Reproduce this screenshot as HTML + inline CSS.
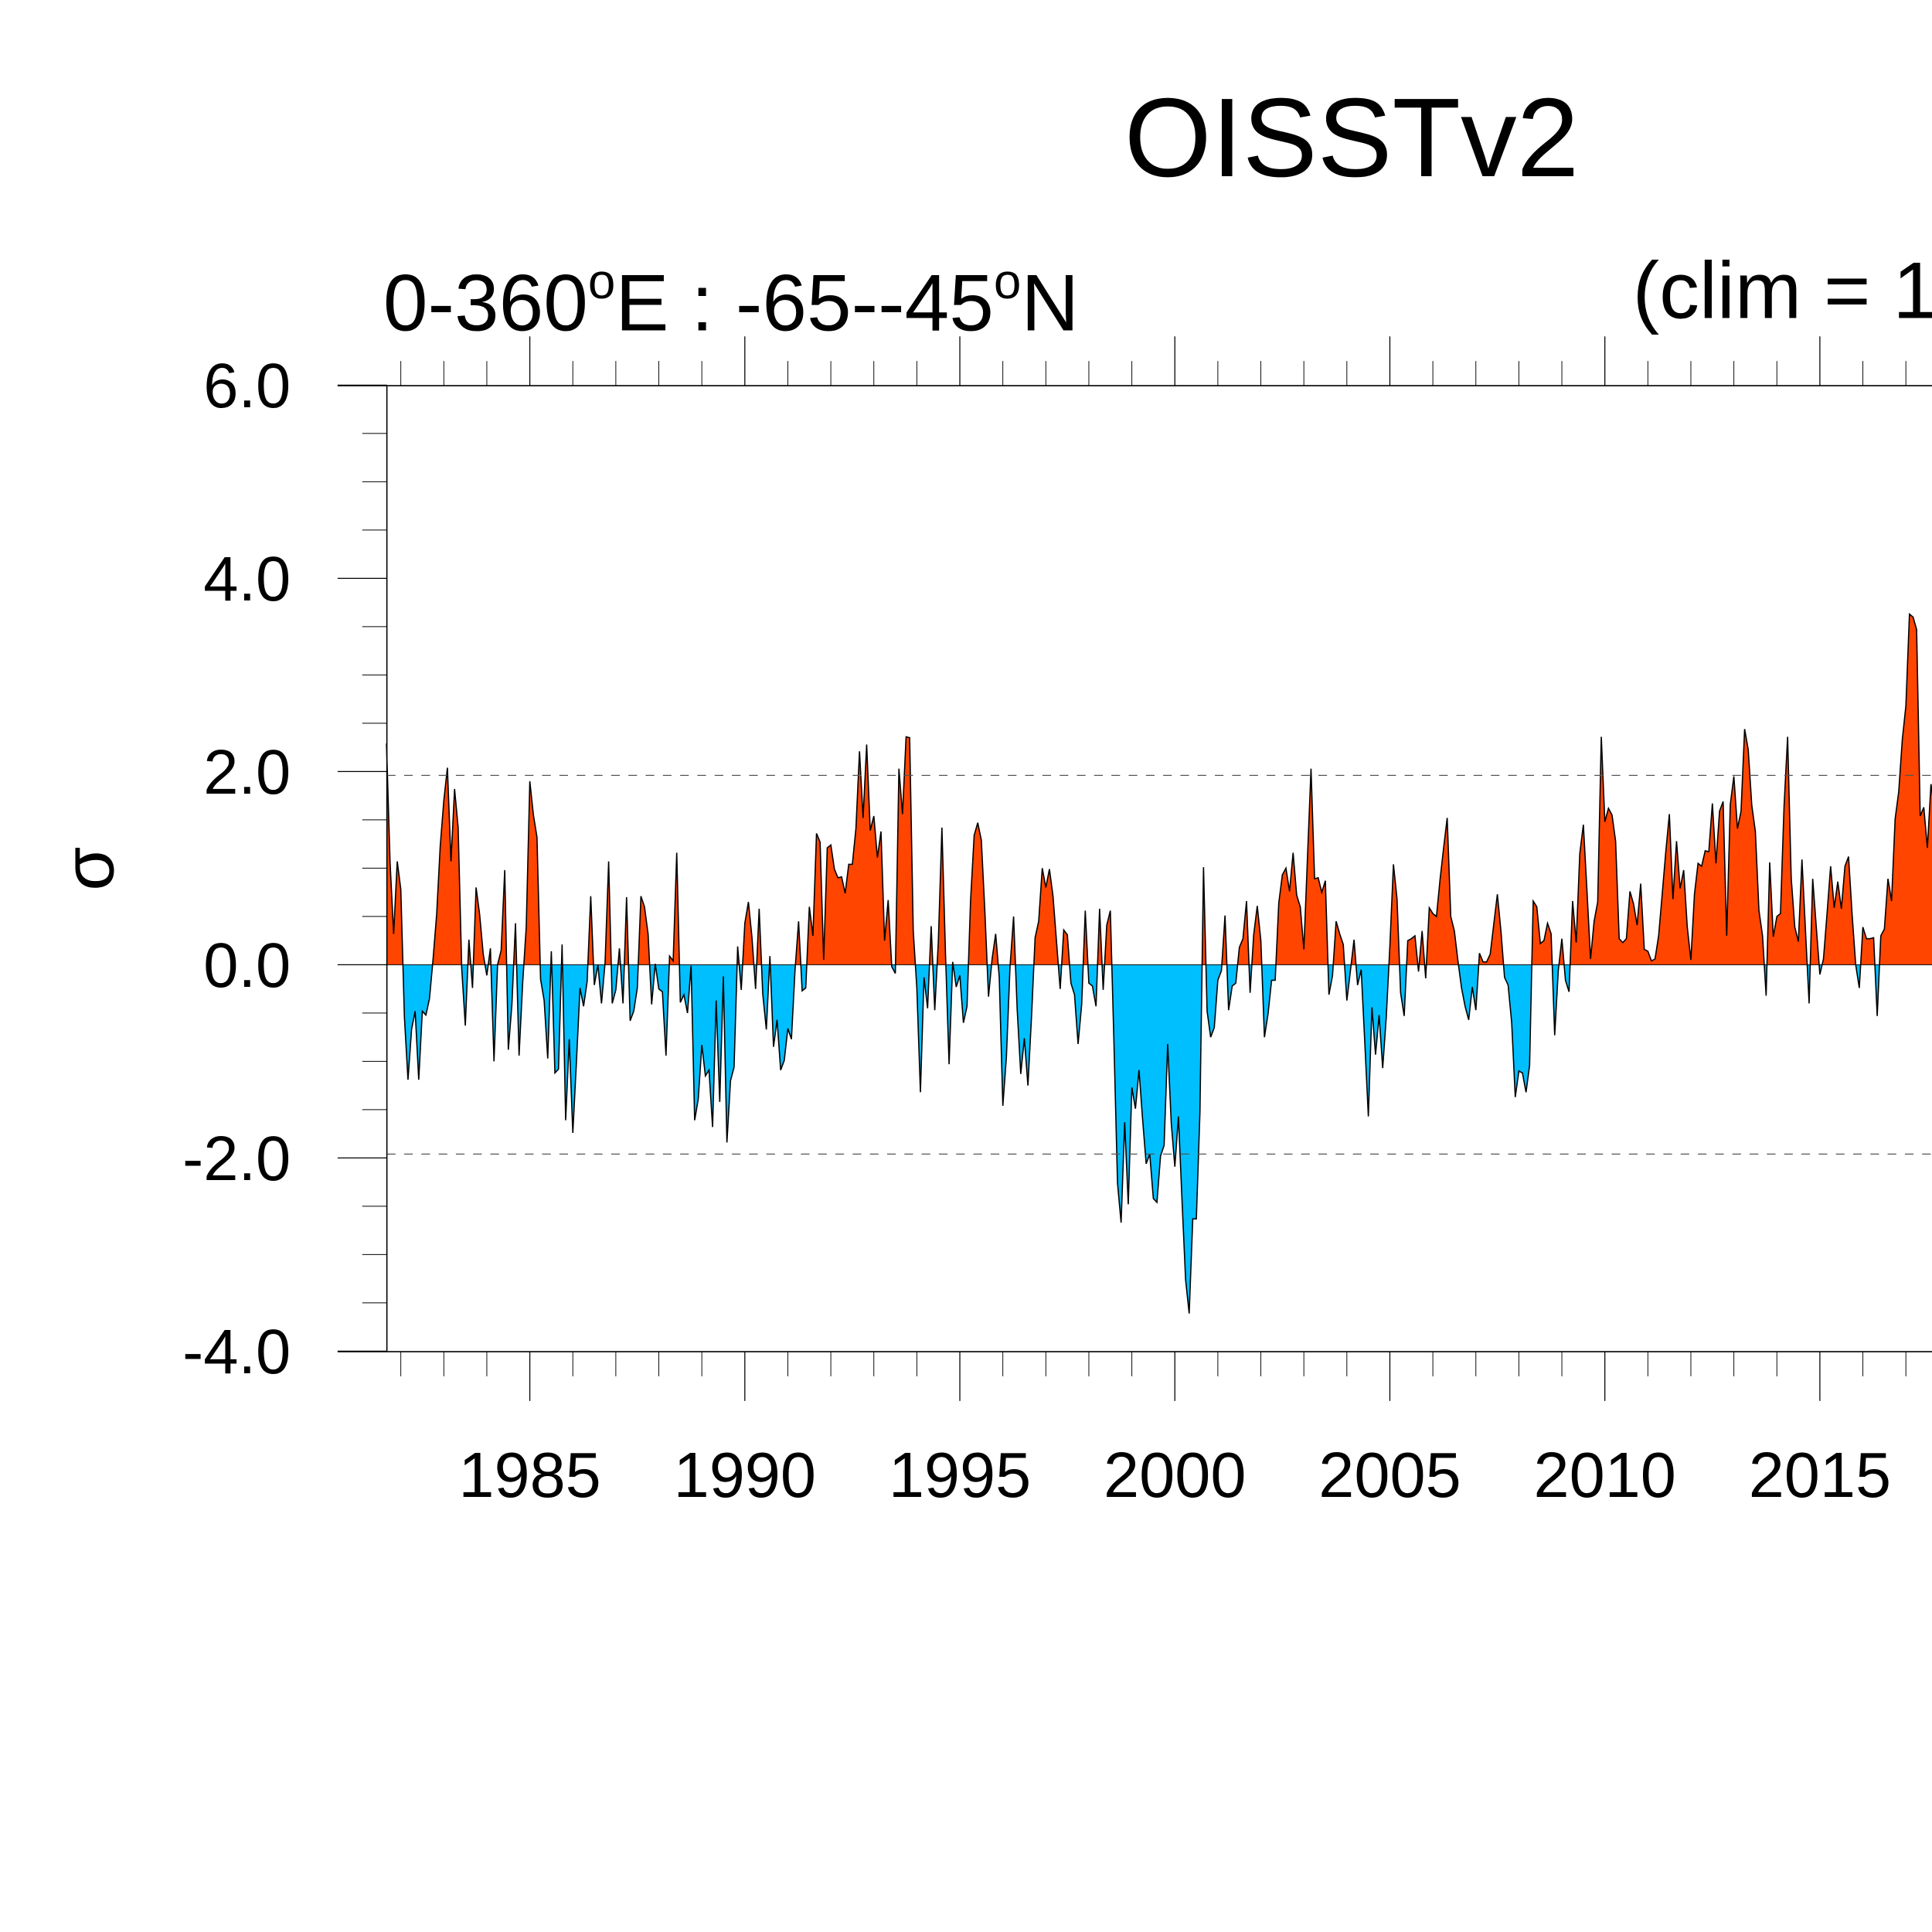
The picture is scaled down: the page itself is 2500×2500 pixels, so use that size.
<!DOCTYPE html>
<html><head><meta charset="utf-8"><style>
html,body{margin:0;padding:0;background:#fff;}
svg{display:block;}
text{font-family:"Liberation Sans",sans-serif;fill:#000;}
</style></head>
<body>
<svg id="chart" width="2500" height="2500" viewBox="0 0 1568 1568" xmlns="http://www.w3.org/2000/svg">
<text x="1097" y="143" font-size="91" text-anchor="middle">OISSTv2</text>
<text x="311" y="268" font-size="65">0-360<tspan font-size="40" dy="-26">o</tspan><tspan dy="26">E : -65--45</tspan><tspan font-size="40" dy="-26">o</tspan><tspan dy="26">N</tspan></text>
<text x="1325" y="258" font-size="65">(clim = 1</text>
<text x="0" y="0" font-size="58" text-anchor="middle" transform="translate(92,705) rotate(-90)">σ</text>
<defs>
<clipPath id="clipPos"><rect x="0" y="0" width="1568" height="783"/></clipPath>
<clipPath id="clipNeg"><rect x="0" y="783" width="1568" height="800"/></clipPath>
</defs>
<g id="plot"></g>
</svg>
<script>
const yTicks = [-4, -2, 0, 2, 4, 6];
const yTickLabels = ["-4.0", "-2.0", "0.0", "2.0", "4.0", "6.0"];
const xTickYears = [1985, 1990, 1995, 2000, 2005, 2010, 2015];
const xTickLabels = ["1985", "1990", "1995", "2000", "2005", "2010", "2015"];
const startYear = 1981 + 8/12;
const sigmaLevels = [1.96, -1.96];
const values = [
2.29,1.06,0.32,1.07,0.78,-0.54,-1.19,-0.67,-0.48,-1.19,-0.48,-0.52,-0.35,0.06,0.52,1.23,1.70,2.04,1.07,1.82,1.42,-0.04,-0.63,0.26,-0.24,0.80,0.52,0.11,-0.11,0.17,-1.0,0,0.15,0.98,-0.88,-0.41,0.43,-0.94,-0.19,0.39,1.90,1.55,1.32,-0.15,-0.37,-0.97,0.14,-1.12,-1.08,0.21,-1.61,-0.77,-1.74,-1.01,-0.24,-0.43,-0.17,0.71,-0.21,0,-0.40,0.02,1.07,-0.40,-0.26,0.17,-0.40,0.70,-0.58,-0.48,-0.24,0.71,0.60,0.32,-0.41,0.01,-0.25,-0.28,-0.94,0.09,0.04,1.16,-0.39,-0.31,-0.50,-0.01,-1.61,-1.39,-0.83,-1.15,-1.09,-1.68,-0.37,-1.42,-0.12,-1.84,-1.20,-1.06,0.19,-0.26,0.43,0.65,0.28,-0.25,0.58,-0.30,
-0.67,0.09,-0.85,-0.57,-1.09,-0.99,-0.66,-0.77,-0.06,0.45,-0.27,-0.24,0.60,0.30,1.36,1.27,0.05,1.21,1.24,0.99,0.90,0.91,0.74,1.04,1.04,1.41,2.21,1.52,2.28,1.39,1.54,1.11,1.38,0.25,0.67,-0.02,-0.09,2.03,1.56,2.36,2.35,0.35,-0.24,-1.32,-0.13,-0.45,0.40,-0.47,0.24,1.42,0.11,-1.03,0.03,-0.23,-0.11,-0.60,-0.43,0.67,1.34,1.47,1.29,0.54,-0.33,0.06,0.32,-0.13,-1.46,-0.95,-0.02,0.50,-0.46,-1.13,-0.76,-1.25,-0.54,0.28,0.45,1.00,0.80,0.99,0.71,0.23,-0.25,0.36,0.31,-0.19,-0.31,-0.82,-0.41,0.56,-0.19,-0.22,-0.43,0.58,-0.26,0.41,0.56,-0.80,-2.26,-2.67,-1.63,-2.48,-1.27,-1.49,-1.09,
-1.6,-2.06,-1.96,-2.42,-2.46,-1.98,-1.87,-0.82,-1.64,-2.09,-1.57,-2.44,-3.26,-3.61,-2.63,-2.63,-1.53,1.01,-0.48,-0.75,-0.65,-0.16,-0.06,0.51,-0.47,-0.22,-0.19,0.18,0.27,0.66,-0.29,0.31,0.61,0.25,-0.75,-0.51,-0.16,-0.16,0.64,0.93,1.00,0.76,1.16,0.72,0.60,0.16,1.10,2.03,0.89,0.90,0.75,0.87,-0.31,-0.11,0.45,0.32,0.21,-0.37,-0.06,0.26,-0.21,-0.05,-0.80,-1.57,-0.44,-0.93,-0.52,-1.07,-0.54,0.19,1.04,0.68,-0.29,-0.53,0.25,0.27,0.30,-0.07,0.35,-0.14,0.59,0.53,0.50,0.88,1.21,1.52,0.50,0.35,0.04,-0.24,-0.43,-0.57,-0.23,-0.47,0.12,0.03,0.03,0.11,0.42,0.73,0.35,-0.13,-0.21,-0.60,-1.37,-1.10,
-1.12,-1.32,-1.04,0.66,0.60,0.22,0.25,0.43,0.32,-0.73,-0.06,0.27,-0.16,-0.28,0.66,0.23,1.15,1.45,0.77,0.06,0.45,0.65,2.36,1.48,1.62,1.55,1.28,0.27,0.23,0.27,0.76,0.63,0.41,0.84,0.16,0.14,0.04,0.06,0.30,0.73,1.17,1.56,0.68,1.28,0.79,0.98,0.39,0.05,0.73,1.05,1.02,1.18,1.17,1.67,1.05,1.59,1.69,0.30,1.66,1.95,1.41,1.59,2.44,2.23,1.65,1.38,0.56,0.30,-0.32,1.06,0.29,0.50,0.53,1.64,2.36,0.90,0.39,0.24,1.09,0.34,-0.40,0.89,0.39,-0.10,0.06,0.53,1.02,0.59,0.86,0.58,1.02,1.12,0.52,0,-0.24,0.39,0.27,0.27,0.28,-0.53,0.30,0.37,0.89,0.66,1.51,1.79,2.33,2.68,3.63,3.60,3.47,1.54,1.63,1.21,1.87,1.6,1.8
];
const NS = "http://www.w3.org/2000/svg";
const g = document.getElementById("plot");
const X0 = 430, PX_PER_YEAR = 34.9;
function xScale(year){ return X0 + (year - 1985) * PX_PER_YEAR; }
function yScale(v){ return 783 - v * 78.4; }
function mk(tag, attrs){ const e = document.createElementNS(NS, tag); for (const k in attrs) e.setAttribute(k, attrs[k]); g.appendChild(e); return e; }
let pts = [];
values.forEach((v, i) => { pts.push(xScale(startYear + i/12).toFixed(2) + "," + yScale(v).toFixed(2)); });
const x0 = xScale(startYear), xN = xScale(startYear + (values.length-1)/12);
const areaPts = x0 + "," + yScale(0) + " " + pts.join(" ") + " " + xN + "," + yScale(0);
const pos = mk("polygon", {points: areaPts, fill: "#FF4500", "clip-path": "url(#clipPos)"});


const neg = mk("polygon", {points: areaPts, fill: "#00BFFF", "clip-path": "url(#clipNeg)"});


const zl = mk("line", {x1: 314, x2: 1568, y1: yScale(0), y2: yScale(0), stroke: "#000", "stroke-width": 0.6});


const ln = mk("polyline", {points: pts.join(" "), fill: "none", stroke: "#000", "stroke-width": 1});


sigmaLevels.forEach(s => {
  const d = mk("line", {x1: 314, x2: 1568, y1: yScale(s), y2: yScale(s), stroke: "#555", "stroke-width": 0.8, "stroke-dasharray": "7,7"});
  
  
});
const fl = mk("polyline", {points: "314,1097 314,313", fill: "none", stroke: "#000", "stroke-width": 1});


const ft = mk("line", {x1: 274, x2: 1568, y1: 313, y2: 313, stroke: "#000", "stroke-width": 1});


const fb = mk("line", {x1: 274, x2: 1568, y1: 1097, y2: 1097, stroke: "#000", "stroke-width": 1});


yTicks.forEach((v, i) => {
  const t = mk("line", {x1: 274, x2: 314, y1: yScale(v), y2: yScale(v), stroke: "#000", "stroke-width": 0.8});
  
  
  const l = mk("text", {x: 236, y: yScale(v) + 18, "font-size": 51, "text-anchor": "end"});
  l.textContent = yTickLabels[i];
  
  
});
for (let v = -3.5; v < 6; v += 0.5) {
  if (Number.isInteger(v / 2)) continue;
  const t = mk("line", {x1: 294, x2: 314, y1: yScale(v), y2: yScale(v), stroke: "#000", "stroke-width": 0.6});
  
  
}
for (let yr = 1982; yr <= 2018; yr++) {
  const x = xScale(yr);
  if (x > 1568) break;
  const major = yr % 5 === 0;
  const len = major ? 40 : 20;
  const t1 = mk("line", {x1: x, x2: x, y1: 313 - len, y2: 313, stroke: "#000", "stroke-width": major ? 0.8 : 0.6});
  
  
  const t2 = mk("line", {x1: x, x2: x, y1: 1097, y2: 1097 + len, stroke: "#000", "stroke-width": major ? 0.8 : 0.6});
  
  
}
xTickYears.forEach((yr, i) => {
  const l = mk("text", {x: xScale(yr), y: 1215, "font-size": 52, "text-anchor": "middle"});
  l.textContent = xTickLabels[i];
  
  
});
</script>
</body></html>
